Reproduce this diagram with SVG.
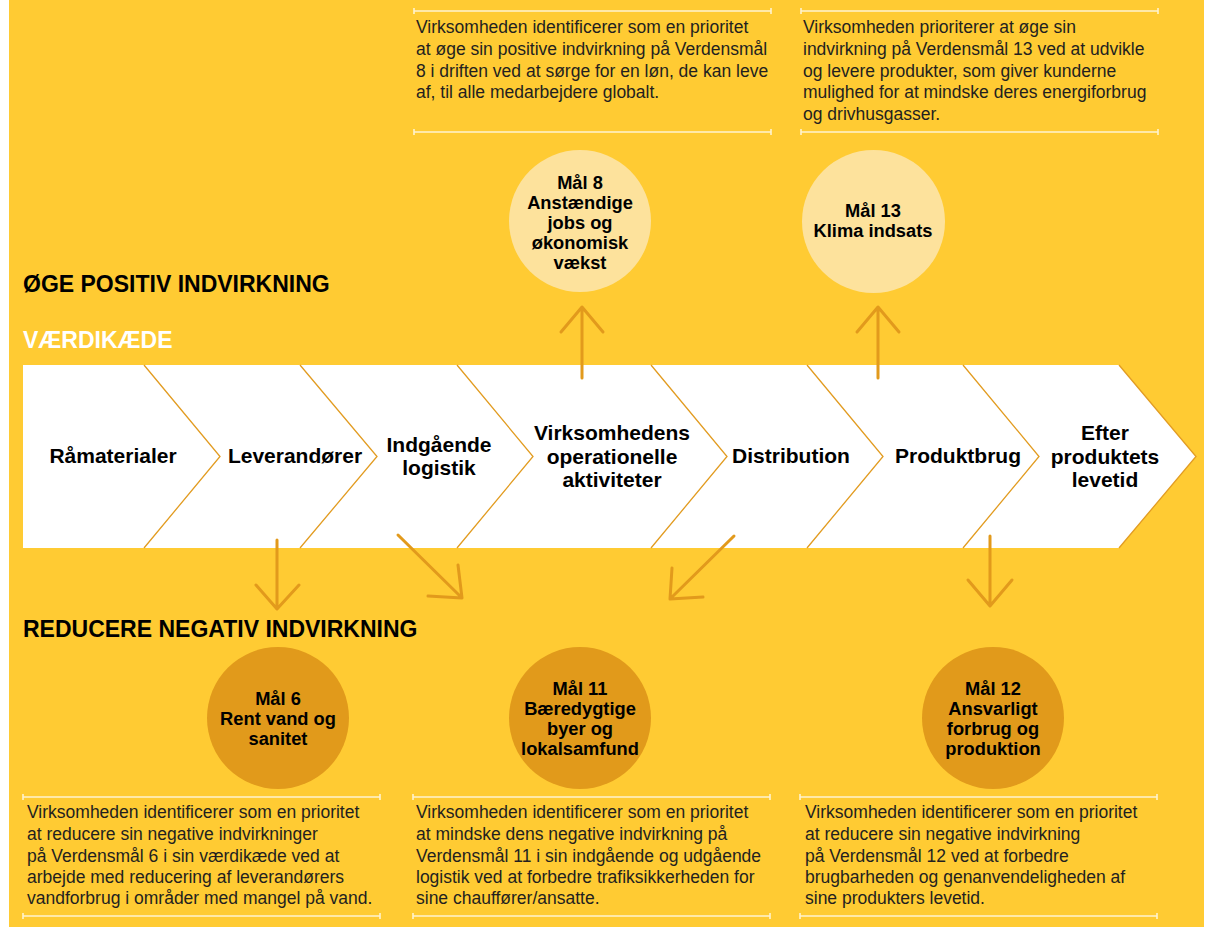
<svg xmlns="http://www.w3.org/2000/svg" width="1208" height="927" viewBox="0 0 1208 927">
<style>
.bg{fill:#FFCB33}
.seg{fill:#FFFFFF}
.edge{fill:none;stroke:#E29C22;stroke-width:1.3}
.lbl{font-family:"Liberation Sans",Arial,sans-serif;font-weight:bold;font-size:21px;fill:#000;text-anchor:middle}
.head{font-family:"Liberation Sans",Arial,sans-serif;font-weight:bold;font-size:23px;fill:#000}
.headw{font-family:"Liberation Sans",Arial,sans-serif;font-weight:bold;font-size:23px;fill:#FFFFFF}
.ctxt{font-family:"Liberation Sans",Arial,sans-serif;font-weight:bold;font-size:18.3px;fill:#000;text-anchor:middle}
.body{font-family:"Liberation Sans",Arial,sans-serif;font-size:17.5px;fill:#231F20}
.light{fill:#FDE29C}
.dark{fill:#E19A1B}
.rule{stroke:#FFF3CF;stroke-width:1.6;fill:none}
.arrow{fill:none;stroke:#E29A1C;stroke-width:3;stroke-linecap:round;stroke-linejoin:round}
</style>
<rect x="0" y="0" width="1208" height="927" fill="#FFFFFF"/>
<rect class="bg" x="9" y="0" width="1195" height="927"/>

<text class="head" x="23" y="292">ØGE POSITIV INDVIRKNING</text>
<text class="headw" x="23" y="348">VÆRDIKÆDE</text>
<text class="head" x="23" y="637">REDUCERE NEGATIV INDVIRKNING</text>

<g id="chain">
<g id="n-raamaterialer">
<polygon class="seg" points="23,365 144,365 220,456.5 144,548 23,548"/>
<text class="lbl" x="113" y="463">Råmaterialer</text>
</g>
<g id="n-leverandorer">
<polygon class="seg" points="144,365 300,365 377,456.5 300,548 144,548 220,456.5"/>
<polyline class="edge" points="144,365 220,456.5 144,548"/>
<text class="lbl" x="295" y="463">Leverandører</text>
</g>
<g id="n-indgaaende">
<polygon class="seg" points="300,365 457,365 533,456.5 457,548 300,548 377,456.5"/>
<polyline class="edge" points="300,365 377,456.5 300,548"/>
<text class="lbl" x="439" y="452">Indgående</text>
<text class="lbl" x="439" y="475">logistik</text>
</g>
<g id="n-virksomhed">
<polygon class="seg" points="457,365 651,365 727,456.5 651,548 457,548 533,456.5"/>
<polyline class="edge" points="457,365 533,456.5 457,548"/>
<text class="lbl" x="612" y="440">Virksomhedens</text>
<text class="lbl" x="612" y="464">operationelle</text>
<text class="lbl" x="612" y="487">aktiviteter</text>
</g>
<g id="n-distribution">
<polygon class="seg" points="651,365 807,365 883,456.5 807,548 651,548 727,456.5"/>
<polyline class="edge" points="651,365 727,456.5 651,548"/>
<text class="lbl" x="791" y="463">Distribution</text>
</g>
<g id="n-produktbrug">
<polygon class="seg" points="807,365 963,365 1039,456.5 963,548 807,548 883,456.5"/>
<polyline class="edge" points="807,365 883,456.5 807,548"/>
<text class="lbl" x="958" y="463">Produktbrug</text>
</g>
<g id="n-efter">
<polygon class="seg" points="963,365 1119,365 1196,456.5 1119,548 963,548 1039,456.5"/>
<polyline class="edge" points="963,365 1039,456.5 963,548"/>
<polyline class="edge" points="1119,365 1196,456.5 1119,548"/>
<text class="lbl" x="1105" y="440">Efter</text>
<text class="lbl" x="1105" y="464">produktets</text>
<text class="lbl" x="1105" y="487">levetid</text>
</g>
</g>

<g id="connectors">
<path class="arrow" d="M582,378 L582,309 M561,332 L582,307 L603,332"/>
<path class="arrow" d="M878,378 L878,309 M857,332 L878,307 L899,332"/>
<path class="arrow" d="M277,540 L277,607 M256,585 L277,609 L299,585"/>
<path class="arrow" d="M990,536 L990,604 M968,580 L990,606 L1012,580"/>
<path class="arrow" d="M398,535 L461,597 M458,565 L462,598 L428,596"/>
<path class="arrow" d="M734,536 L671,598 M672,568 L670,599 L703,597"/>
</g>

<g id="goal8">
<circle class="light" cx="580" cy="221" r="71"/>
<text class="ctxt" x="580" y="189">Mål 8</text>
<text class="ctxt" x="580" y="209">Anstændige</text>
<text class="ctxt" x="580" y="229">jobs og</text>
<text class="ctxt" x="580" y="249">økonomisk</text>
<text class="ctxt" x="580" y="269">vækst</text>
</g>
<g id="goal13">
<circle class="light" cx="873.5" cy="221.5" r="71.5"/>
<text class="ctxt" x="873" y="217">Mål 13</text>
<text class="ctxt" x="873" y="237">Klima indsats</text>
</g>
<g id="goal6">
<circle class="dark" cx="278" cy="718" r="71"/>
<text class="ctxt" x="278" y="705">Mål 6</text>
<text class="ctxt" x="278" y="725">Rent vand og</text>
<text class="ctxt" x="278" y="745">sanitet</text>
</g>
<g id="goal11">
<circle class="dark" cx="580" cy="718" r="71"/>
<text class="ctxt" x="580" y="695">Mål 11</text>
<text class="ctxt" x="580" y="715">Bæredygtige</text>
<text class="ctxt" x="580" y="735">byer og</text>
<text class="ctxt" x="580" y="755">lokalsamfund</text>
</g>
<g id="goal12">
<circle class="dark" cx="993" cy="718" r="71"/>
<text class="ctxt" x="993" y="695">Mål 12</text>
<text class="ctxt" x="993" y="715">Ansvarligt</text>
<text class="ctxt" x="993" y="735">forbrug og</text>
<text class="ctxt" x="993" y="755">produktion</text>
</g>

<g id="box8">
<path class="rule" d="M414,11 H771 M414,8 V14 M771,8 V14 M414,132 H771 M414,129 V135 M771,129 V135"/>
<text class="body" x="416" y="33">Virksomheden identificerer som en prioritet</text>
<text class="body" x="416" y="55">at øge sin positive indvirkning på Verdensmål</text>
<text class="body" x="416" y="77">8 i driften ved at sørge for en løn, de kan leve</text>
<text class="body" x="416" y="98">af, til alle medarbejdere globalt.</text>
</g>
<g id="box13">
<path class="rule" d="M801,11 H1158 M801,8 V14 M1158,8 V14 M801,132 H1158 M801,129 V135 M1158,129 V135"/>
<text class="body" x="803" y="33">Virksomheden prioriterer at øge sin</text>
<text class="body" x="803" y="55">indvirkning på Verdensmål 13 ved at udvikle</text>
<text class="body" x="803" y="77">og levere produkter, som giver kunderne</text>
<text class="body" x="803" y="98">mulighed for at mindske deres energiforbrug</text>
<text class="body" x="803" y="120">og drivhusgasser.</text>
</g>
<g id="box6">
<path class="rule" d="M23,797 H380 M23,794 V800 M380,794 V800 M23,916 H380 M23,913 V919 M380,913 V919"/>
<text class="body" x="27" y="818">Virksomheden identificerer som en prioritet</text>
<text class="body" x="27" y="840">at reducere sin negative indvirkninger</text>
<text class="body" x="27" y="862">på Verdensmål 6 i sin værdikæde ved at</text>
<text class="body" x="27" y="883">arbejde med reducering af leverandørers</text>
<text class="body" x="27" y="904">vandforbrug i områder med mangel på vand.</text>
</g>
<g id="box11">
<path class="rule" d="M413,797 H770 M413,794 V800 M770,794 V800 M413,916 H770 M413,913 V919 M770,913 V919"/>
<text class="body" x="416" y="818">Virksomheden identificerer som en prioritet</text>
<text class="body" x="416" y="840">at mindske dens negative indvirkning på</text>
<text class="body" x="416" y="862">Verdensmål 11 i sin indgående og udgående</text>
<text class="body" x="416" y="883">logistik ved at forbedre trafiksikkerheden for</text>
<text class="body" x="416" y="904">sine chauffører/ansatte.</text>
</g>
<g id="box12">
<path class="rule" d="M800,797 H1157 M800,794 V800 M1157,794 V800 M800,916 H1157 M800,913 V919 M1157,913 V919"/>
<text class="body" x="805" y="818">Virksomheden identificerer som en prioritet</text>
<text class="body" x="805" y="840">at reducere sin negative indvirkning</text>
<text class="body" x="805" y="862">på Verdensmål 12 ved at forbedre</text>
<text class="body" x="805" y="883">brugbarheden og genanvendeligheden af</text>
<text class="body" x="805" y="904">sine produkters levetid.</text>
</g>
</svg>
